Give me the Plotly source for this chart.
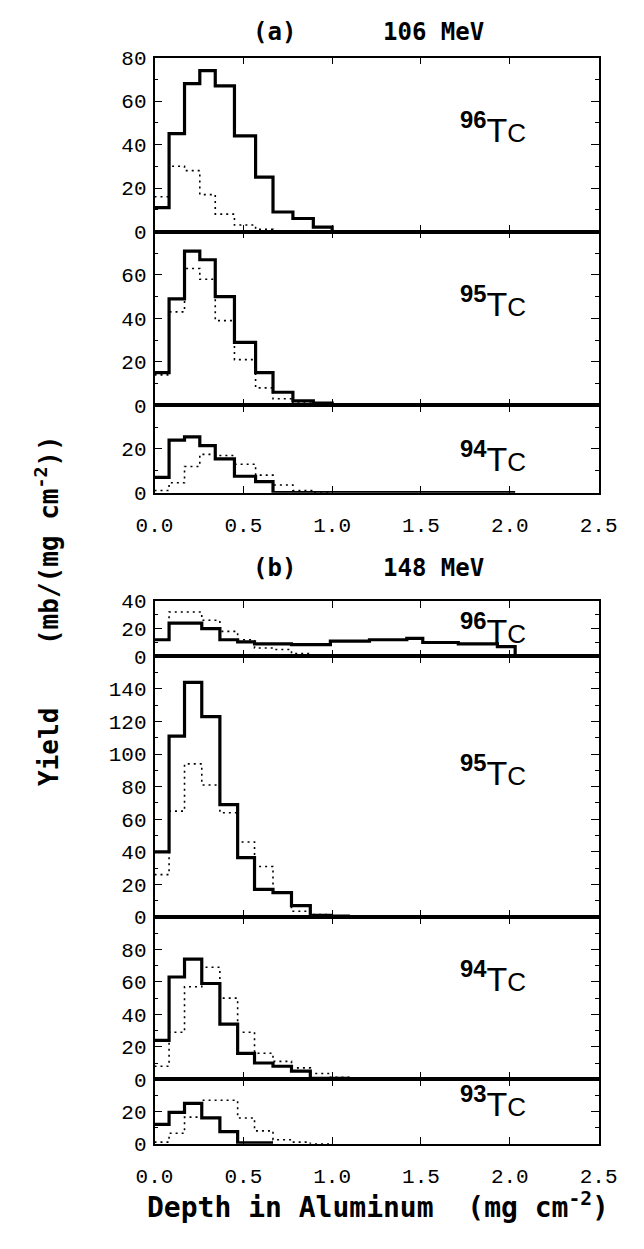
import plotly.graph_objects as go

W, H = 644, 1249

# Bin edges (mg cm^-2) of the catcher-foil stacks
edges_106 = [0.0, 0.082, 0.169, 0.255, 0.342, 0.45, 0.569, 0.667, 0.779, 0.894,
             1.0, 1.25, 1.5, 1.75, 2.03]
edges_148 = [0.0, 0.082, 0.169, 0.266, 0.368, 0.468, 0.563, 0.667, 0.771, 0.877,
             0.99, 1.1, 1.21, 1.42, 1.51, 1.71, 1.93, 2.03, 2.25]

# (a) 106 MeV : measured (solid) and calculated (dotted) yields
tc96_106_meas = [11, 45, 68, 74, 67, 44, 25, 9, 6, 2, 0, 0, 0, 0]
tc96_106_calc = [16, 30, 28, 17, 8, 3, 1, 0, 0, 0]
tc95_106_meas = [15, 49, 71, 67, 50, 29, 15, 6, 2, 1, 0, 0, 0, 0]
tc95_106_calc = [14, 43, 63, 58, 39, 21, 8, 3, 1, 0]
tc94_106_meas = [7, 24, 25.5, 21.5, 15.5, 7.5, 5, 0, 0, 0, 0, 0, 0, 0]
tc94_106_calc = [1, 4.5, 12, 17.5, 17, 13, 8, 3.5, 1, 0]

# (b) 148 MeV
tc96_148_meas = [12, 24, 24, 20, 12, 10.5, 9, 9, 8.5, 8.5, 11, 11, 12, 13, 10, 9, 7, 0]
tc96_148_calc = [12, 32, 32, 26, 18, 12, 6, 5, 2, 1, 0]
tc95_148_meas = [40, 111, 144, 123, 69, 36.5, 17, 15, 7, 1, 0.5]
tc95_148_calc = [26, 65, 94, 81, 64, 46, 31, 15.5, 3.5, 1.5, 0.5]
tc94_148_meas = [24, 63, 74, 59, 34, 16, 10, 8, 5, 0.6, 0.6]
tc94_148_calc = [8, 29, 57, 69, 50, 29, 16, 11, 7, 3.5, 1.2]
tc93_148_meas = [12, 19.5, 25, 16, 7.5, 0.5, 0.5]
tc93_148_calc = [1, 6.5, 16.5, 27, 27, 16, 8, 2.5, 1, 0]

# panel: (label, edges, measured, calculated, y-range top, labelled ticks, pixel top, pixel bottom)
panels = [
    ("96", edges_106, tc96_106_meas, tc96_106_calc, 80, [0, 20, 40, 60, 80], 48.5, 225.7),
    ("95", edges_106, tc95_106_meas, tc95_106_calc, 80, [0, 20, 40, 60], 225.7, 402.7),
    ("94", edges_106, tc94_106_meas, tc94_106_calc, 40, [0, 20], 402.7, 491.7),
    ("96", edges_148, tc96_148_meas, tc96_148_calc, 40, [0, 20, 40], 602.0, 658.5),
    ("95", edges_148, tc95_148_meas, tc95_148_calc, 160, [0, 20, 40, 60, 80, 100, 120, 140], 658.5, 924.0),
    ("94", edges_148, tc94_148_meas, tc94_148_calc, 100, [0, 20, 40, 60, 80], 924.0, 1089.3),
    ("93", edges_148, tc93_148_meas, tc93_148_calc, 40, [0, 20], 1089.3, 1155.0),
]

X0, X1 = 144, 616
MONO = "DejaVu Sans Mono"
TICKFONT = dict(family="Liberation Mono, DejaVu Sans Mono, monospace", size=21, color="black")


def px_x(x):
    return x / W


def px_y(y):
    return 1 - y / H


def step_xy(edges, vals):
    xs = list(edges[:len(vals) + 1])
    ys = list(vals) + [vals[-1]]
    return xs, ys


fig = go.Figure()
layout = dict(
    width=W, height=H,
    margin=dict(l=0, r=0, t=0, b=0),
    paper_bgcolor="white", plot_bgcolor="white",
    showlegend=False,
)

annotations = []
for i, (nuc, edges, meas, calc, top, tvals, ptop, pbot) in enumerate(panels, start=1):
    xa = "x" if i == 1 else f"x{i}"
    ya = "y" if i == 1 else f"y{i}"
    xs, ys = step_xy(edges, calc)
    fig.add_trace(go.Scatter(x=xs, y=ys, mode="lines", line_shape="hv",
                             line=dict(color="black", width=1.6, dash="2px,4px"),
                             xaxis=xa, yaxis=ya, hoverinfo="skip"))
    xs, ys = step_xy(edges, meas)
    fig.add_trace(go.Scatter(x=xs, y=ys, mode="lines", line_shape="hv",
                             line=dict(color="black", width=3.2),
                             xaxis=xa, yaxis=ya, hoverinfo="skip"))

    bottom_panel = i in (3, 7)
    layout["xaxis" if i == 1 else f"xaxis{i}"] = dict(
        domain=[px_x(X0), px_x(X1)], anchor=ya, range=[0, 2.5],
        tickvals=[0, 0.5, 1.0, 1.5, 2.0, 2.5],
        ticktext=["0.0", "0.5", "1.0", "1.5", "2.0", "2.5"],
        ticks="inside", ticklen=7, tickwidth=1.3, tickcolor="black",
        showline=True, linecolor="black", linewidth=1.5, mirror="ticks",
        showgrid=False, zeroline=False,
        showticklabels=bottom_panel, ticklabelstandoff=12,
        tickfont=TICKFONT,
    )
    layout["yaxis" if i == 1 else f"yaxis{i}"] = dict(
        domain=[px_y(pbot), px_y(ptop)], anchor=xa, range=[0, top],
        tickvals=tvals, ticktext=[str(v) for v in tvals],
        ticks="inside", ticklen=8, tickwidth=1.3, tickcolor="black",
        minor=dict(dtick=10, tick0=0, ticks="inside", ticklen=4, tickwidth=1.2,
                   tickcolor="black", showgrid=False),
        showline=True, linecolor="black", linewidth=1.5, mirror="ticks",
        showgrid=False, zeroline=False, ticklabelstandoff=2,
        tickfont=TICKFONT,
    )

# nuclide labels
label_y = [120, 297, 455, 630, 775, 985, 1112]
for (nuc, *_), ly in zip(panels, label_y):
    annotations.append(dict(
        xref="paper", yref="paper", x=px_x(466), y=px_y(ly),
        xanchor="left", yanchor="middle", showarrow=False,
        text=f"<b><sup>{nuc}</sup></b>T<span style='font-size:26px'>C</span>",
        font=dict(family="Liberation Sans, sans-serif", size=34, color="black"),
    ))

titles = [("(a)", 271, 22), ("106 MeV", 441, 22), ("(b)", 271, 568), ("148 MeV", 441, 568)]
for txt, tx, ty in titles:
    annotations.append(dict(
        xref="paper", yref="paper", x=px_x(tx), y=px_y(ty),
        xanchor="center", yanchor="middle", showarrow=False,
        text=f"<b>{txt}</b>", font=dict(family=MONO, size=24, color="black"),
    ))

annotations.append(dict(
    xref="paper", yref="paper", x=px_x(382), y=px_y(1218),
    xanchor="center", yanchor="middle", showarrow=False,
    text="<b>Depth in Aluminum  (mg cm<sup>-2</sup>)</b>",
    font=dict(family=MONO, size=28, color="black"),
))
annotations.append(dict(
    xref="paper", yref="paper", x=px_x(30), y=px_y(612),
    xanchor="center", yanchor="middle", showarrow=False, textangle=-90,
    text="<b>Yield    (mb/(mg cm<sup>-2</sup>))</b>",
    font=dict(family=MONO, size=26, color="black"),
))

layout["annotations"] = annotations
fig.update_layout(**layout)
fig.write_html("out.html")
